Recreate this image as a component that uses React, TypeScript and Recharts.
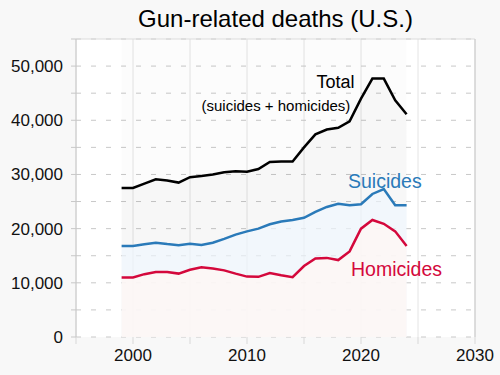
import React from 'react'
import {
  Area,
  CartesianGrid,
  ComposedChart,
  Line,
  ReferenceArea,
  ReferenceLine,
  XAxis,
  YAxis,
} from 'recharts'

// Values
const years = [
  1999, 2000, 2001, 2002, 2003, 2004, 2005, 2006, 2007, 2008, 2009, 2010, 2011,
  2012, 2013, 2014, 2015, 2016, 2017, 2018, 2019, 2020, 2021, 2022, 2023, 2024,
]
const total = [
  27500, 27500, 28300, 29100, 28900, 28500, 29500, 29700, 30000, 30400, 30600,
  30500, 31000, 32300, 32400, 32400, 35000, 37400, 38300, 38600, 39800, 44000,
  47700, 47700, 43700, 41100,
]
const suicides = [
  16800, 16800, 17100, 17400, 17150, 16950, 17200, 17000, 17400, 18100, 18900,
  19500, 20000, 20800, 21300, 21600, 22000, 23100, 24000, 24600, 24300, 24500,
  26400, 27300, 24300, 24300,
]
const homicides = [
  11000, 11000, 11600, 12000, 12000, 11700, 12400, 12850, 12650, 12300, 11700,
  11150, 11100, 11800, 11400, 11050, 13100, 14500, 14600, 14200, 15800, 20000,
  21600, 20900, 19500, 16800,
]
const xTicks = [1995, 2000, 2005, 2010, 2015, 2020, 2025, 2030]
const yTicks = [0, 5000, 10000, 15000, 20000, 25000, 30000, 35000, 40000, 45000, 50000, 55000]

const data = years.map((year, i) => ({
  year,
  total: total[i],
  suicides: suicides[i],
  homicides: homicides[i],
}))

const font = '"Liberation Sans", Arial, sans-serif'
const blue = '#2a7ab9'
const red = '#d4083c'

const fmt = (v: number) =>
  v % 10000 === 0 && v < 55000 ? String(v).replace(/\B(?=(\d{3})+(?!\d))/g, ',') : ''

export default function App() {
  return (
    <div
      style={{
        position: 'absolute',
        left: 0,
        top: 0,
        width: 500,
        height: 375,
        background: '#f8f8f8',
        fontFamily: font,
      }}
    >
      <ComposedChart
        width={500}
        height={375}
        data={data}
        margin={{ top: 39, right: 25, bottom: 0, left: 0 }}
      >
        <CartesianGrid horizontal={false} stroke="#e4e4e4" fill="#fff" />
        <CartesianGrid vertical={false} stroke="#c8c8c8" strokeDasharray="5 10" />
        <ReferenceArea x1={1999} x2={2024} fill="#000" fillOpacity={0.012} stroke="none" />
        <XAxis
          dataKey="year"
          type="number"
          domain={[1995, 2030]}
          ticks={xTicks}
          tickFormatter={(v) => (v % 10 === 0 ? String(v) : '')}
          axisLine={false}
          tickLine={{ stroke: '#d8d8d8' }}
          tickSize={7}
          tickMargin={5}
          height={38}
          tick={{ fontSize: 17, fill: '#111', fontFamily: font }}
        />
        <YAxis
          type="number"
          domain={[0, 55000]}
          ticks={yTicks}
          tickFormatter={fmt}
          axisLine={{ stroke: '#c8c8c8' }}
          tickLine={{ stroke: '#c8c8c8' }}
          tickSize={5}
          tickMargin={8}
          width={76}
          tick={{ fontSize: 17, fill: '#111', fontFamily: font }}
        />
        <Area
          type="linear"
          dataKey="total"
          stroke="none"
          fill="#000"
          fillOpacity={0.02}
          isAnimationActive={false}
          activeDot={false}
        />
        <Area
          type="linear"
          dataKey="suicides"
          stroke="none"
          fill="#eff7fe"
          fillOpacity={0.7}
          isAnimationActive={false}
          activeDot={false}
        />
        <Area
          type="linear"
          dataKey="homicides"
          stroke="none"
          fill="#fff7f4"
          fillOpacity={0.75}
          isAnimationActive={false}
          activeDot={false}
        />
        <ReferenceLine y={55000} stroke="#dcdcdc" />
        <ReferenceLine x={2030} stroke="#c8c8c8" />
        <Line
          type="linear"
          dataKey="total"
          stroke="#000"
          strokeWidth={2.5}
          dot={false}
          isAnimationActive={false}
        />
        <Line
          type="linear"
          dataKey="suicides"
          stroke={blue}
          strokeWidth={2.5}
          dot={false}
          isAnimationActive={false}
        />
        <Line
          type="linear"
          dataKey="homicides"
          stroke={red}
          strokeWidth={2.5}
          dot={false}
          isAnimationActive={false}
        />
      </ComposedChart>
      <svg
        width={500}
        height={375}
        style={{ position: 'absolute', left: 0, top: 0, pointerEvents: 'none' }}
        fontFamily={font}
      >
        <text x={275.5} y={27} fontSize={24} textAnchor="middle" fill="#000">
          Gun-related deaths (U.S.)
        </text>
        <text x={316.5} y={88} fontSize={18} fill="#000">
          Total
        </text>
        <text x={201.5} y={111} fontSize={15} fill="#000">
          (suicides + homicides)
        </text>
        <text x={348} y={188} fontSize={19.5} fill={blue}>
          Suicides
        </text>
        <text x={351} y={276} fontSize={19.5} fill={red}>
          Homicides
        </text>
      </svg>
    </div>
  )
}
